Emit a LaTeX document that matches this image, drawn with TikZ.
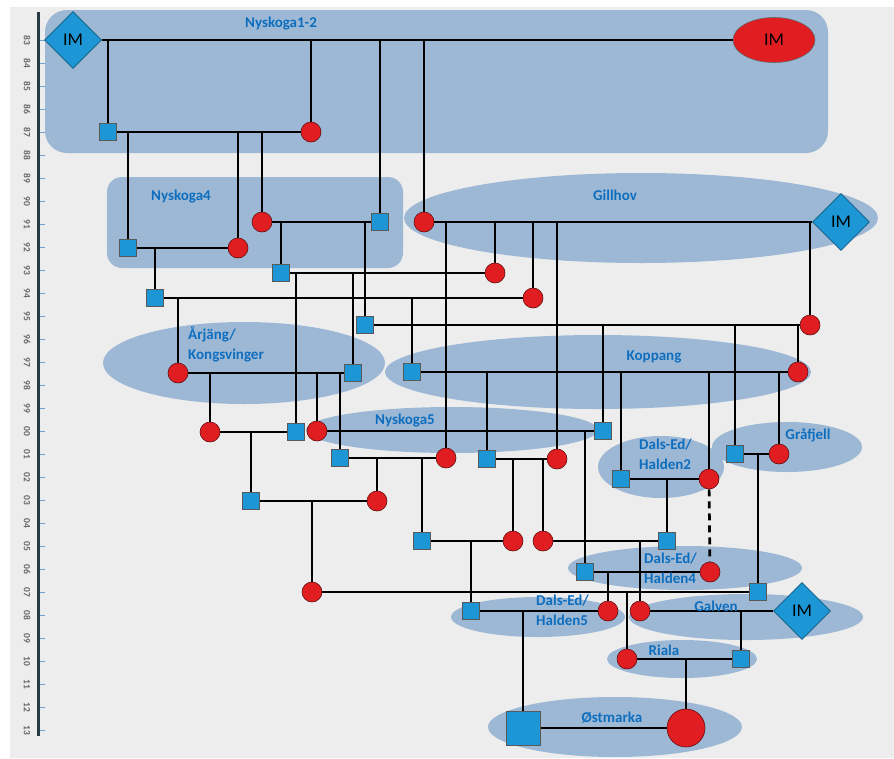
\documentclass[tikz,border=0pt]{standalone}
\usepackage{fontspec}
\setmainfont{Carlito}
\usetikzlibrary{shapes.geometric}
\definecolor{bgc}{RGB}{237,237,237}
\definecolor{reg}{RGB}{157,184,213}
\definecolor{sq}{RGB}{28,150,212}
\definecolor{ci}{RGB}{224,30,34}
\definecolor{lab}{RGB}{14,110,190}
\definecolor{axisc}{RGB}{38,58,68}
\definecolor{tickc}{RGB}{110,160,210}
\pgfdeclarelayer{regions}
\pgfdeclarelayer{links}
\pgfsetlayers{regions,links,main}
\begin{document}
\begin{tikzpicture}[x=1pt,y=-1pt,
 male/.style={rectangle,fill=sq,draw=black!65,line width=0.6pt,minimum size=17pt,inner sep=0pt},
 female/.style={circle,fill=ci,draw=black!55!ci,line width=0.6pt,minimum size=20pt,inner sep=0pt},
 imd/.style={diamond,fill=sq,draw=black!40!sq,line width=0.6pt,minimum width=57pt,minimum height=57pt,inner sep=0pt,font=\fontsize{18}{18}\selectfont},
 ime/.style={ellipse,fill=ci,draw=black!60,line width=0.6pt,minimum width=82pt,minimum height=45pt,inner sep=0pt,font=\fontsize{18}{18}\selectfont},
 lbl/.style={text=lab,font=\bfseries\fontsize{15}{20}\selectfont,inner sep=0pt},
 link/.style={line width=2.7pt,black},
 yr/.style={rotate=-90,font=\bfseries\fontsize{9.5}{9.5}\selectfont,text=black!60,inner sep=0pt}
]
\useasboundingbox (0,0) rectangle (894,758);
\begin{pgfonlayer}{regions}
\fill[white] (0,0) rectangle (894,758);
\fill[bgc] (10,7) rectangle (894,758);
\fill[reg,rounded corners=22pt] (45,10) rectangle (828,153);
\fill[reg,rounded corners=15pt] (107,177) rectangle (403,268);
\fill[reg] (641,218) ellipse [x radius=237pt,y radius=45pt];
\fill[reg] (244,363) ellipse [x radius=141pt,y radius=41pt];
\fill[reg] (598,372) ellipse [x radius=213pt,y radius=37pt];
\fill[reg] (452,430) ellipse [x radius=146pt,y radius=23pt];
\fill[reg] (661,467) ellipse [x radius=63pt,y radius=31pt];
\fill[reg] (787,447) ellipse [x radius=75pt,y radius=25pt];
\fill[reg] (685,568) ellipse [x radius=117pt,y radius=22pt];
\fill[reg] (538,617) ellipse [x radius=87pt,y radius=20pt];
\fill[reg] (746,617) ellipse [x radius=117pt,y radius=23pt];
\fill[reg] (682,659) ellipse [x radius=75pt,y radius=19pt];
\fill[reg] (615,727) ellipse [x radius=127pt,y radius=30pt];
\end{pgfonlayer}
% axis
\draw[axisc,line width=3pt] (38,12) -- (38,736);
\foreach \t [count=\i from 0] in {83,84,85,86,87,88,89,90,91,92,93,94,95,96,97,98,99,00,01,02,03,04,05,06,07,08,09,10,11,12,13}{
  \draw[tickc,line width=0.8pt] (39.5,{40+23*\i}) -- (45,{40+23*\i});
  \node[yr] (yr\i) at (27,{40+23*\i}) {\t};
}
% region labels
\node[lbl] (lNy12) at (281,24) {Nyskoga1-2};
\node[lbl] (lNy4) at (181,197) {Nyskoga4};
\node[lbl] (lGil) at (615,195) {Gillhov};
\node[lbl,align=left,anchor=north west] (lArj) at (188,326) {Årjäng/\\Kongsvinger};
\node[lbl] (lKop) at (654,357) {Koppang};
\node[lbl] (lNy5) at (405,421) {Nyskoga5};
\node[lbl,align=left,anchor=north west] (lDH2) at (639,439) {Dals-Ed/\\Halden2};
\node[lbl] (lGra) at (808,435) {Gråfjell};
\node[lbl,align=left,anchor=north west] (lDH4) at (644,553) {Dals-Ed/\\Halden4};
\node[lbl,align=left,anchor=north west] (lDH5) at (536,595) {Dals-Ed/\\Halden5};
\node[lbl] (lGal) at (716,606) {Galven};
\node[lbl] (lRia) at (664,650) {Riala};
\node[lbl] (lOst) at (612,718) {Østmarka};
% individuals
\node[imd] (imA) at (73,40) {IM};
\node[ime] (imB) at (774,40) {IM};
\node[male] (s87) at (108,132) {};
\node[female] (c87) at (311,132) {};
\node[female] (c91a) at (262,222) {};
\node[male] (s91) at (380,222) {};
\node[female] (c91b) at (424,222) {};
\node[imd] (imG) at (841,222) {IM};
\node[male] (s92) at (128,248) {};
\node[female] (c92) at (238,248) {};
\node[male] (s93) at (281,273) {};
\node[female] (c93) at (495,273) {};
\node[male] (s94) at (155,298) {};
\node[female] (c94) at (533,298) {};
\node[male] (s95) at (365,325) {};
\node[female] (c95) at (810,325) {};
\node[female] (c97) at (178,373) {};
\node[male] (s97) at (353,373) {};
\node[male] (s97k) at (412,372) {};
\node[female] (c97k) at (798,372) {};
\node[female] (c00a) at (210,432) {};
\node[male] (s00a) at (296,432) {};
\node[female] (c00b) at (317,431) {};
\node[male] (s00b) at (603,431) {};
\node[male] (s01a) at (340,458) {};
\node[female] (c01a) at (446,458) {};
\node[male] (s01b) at (487,459) {};
\node[female] (c01b) at (557,459) {};
\node[male] (s01g) at (735,454) {};
\node[female] (c01g) at (779,454) {};
\node[male] (s02h) at (621,479) {};
\node[female] (c02h) at (709,479) {};
\node[male] (s03) at (251,501) {};
\node[female] (c03) at (377,501) {};
\node[male] (s05a) at (422,541) {};
\node[female] (c05a) at (513,541) {};
\node[female] (c05b) at (543,541) {};
\node[male] (s05b) at (667,541) {};
\node[male] (s06) at (585,572) {};
\node[female] (c06) at (710,572) {};
\node[female] (c07) at (312,592) {};
\node[male] (s07) at (758,592) {};
\node[male] (s08) at (471,611) {};
\node[female] (c08a) at (608,611) {};
\node[female] (c08b) at (640,611) {};
\node[imd] (imV) at (802,611) {IM};
\node[female] (c10) at (627,659) {};
\node[male] (s10) at (741,659) {};
\node[male,minimum size=34pt] (s13) at (523,728) {};
\node[female,minimum size=38pt] (c13) at (686,728) {};
% links
\begin{pgfonlayer}{links}
\draw[link] (imA) -- (imB);
\foreach \c in {s87,c87,s91,c91b} \draw[link] (\c |- imA) -- (\c);
\draw[link] (s87) -- (c87);
\foreach \c in {s92,c92,c91a} \draw[link] (\c |- s87) -- (\c);
\draw[link] (c91a) -- (s91);
\foreach \c in {s93,s95} \draw[link] (\c |- s91) -- (\c);
\draw[link] (c91b) -- (imG);
\foreach \c in {c01a,c93,c94,c01b,c95} \draw[link] (\c |- imG) -- (\c);
\draw[link] (s92) -- (c92);
\draw[link] (s94 |- s92) -- (s94);
\draw[link] (s93) -- (c93);
\foreach \c in {s00a,s97} \draw[link] (\c |- s93) -- (\c);
\draw[link] (s94) -- (c94);
\foreach \c in {c97,s97k} \draw[link] (\c |- s94) -- (\c);
\draw[link] (s95) -- (c95);
\foreach \c in {s00b,s01g,c97k} \draw[link] (\c |- s95) -- (\c);
\draw[link] (c97) -- (s97);
\foreach \c in {c00a,c00b,s01a} \draw[link] (\c |- c97) -- (\c);
\draw[link] (s97k) -- (c97k);
\foreach \c in {s01b,s02h,c02h,c01g} \draw[link] (\c |- s97k) -- (\c);
\draw[link] (c00a) -- (s00a);
\draw[link] (s03 |- c00a) -- (s03);
\draw[link] (c00b) -- (s00b);
\draw[link] (s06 |- s00b) -- (s06);
\draw[link] (s01a) -- (c01a);
\foreach \c in {c03,s05a} \draw[link] (\c |- s01a) -- (\c);
\draw[link] (s01b) -- (c01b);
\foreach \c in {c05a,c05b} \draw[link] (\c |- s01b) -- (\c);
\draw[link] (s01g) -- (c01g);
\draw[link] (s07 |- s01g) -- (s07);
\draw[link] (s02h) -- (c02h);
\draw[link] (s05b |- s02h) -- (s05b);
\draw[link,dashed,dash pattern=on 7pt off 5pt] (c02h) -- (c06);
\draw[link] (s03) -- (c03);
\draw[link] (c07 |- s03) -- (c07);
\draw[link] (s05a) -- (c05a);
\draw[link] (s08 |- s05a) -- (s08);
\draw[link] (c05b) -- (s05b);
\draw[link] (c08b |- c05b) -- (c08b);
\draw[link] (s06) -- (c06);
\draw[link] (c08a |- s06) -- (c08a);
\draw[link] (c07) -- (s07);
\draw[link] (c10 |- c07) -- (c10);
\draw[link] (s08) -- (c08a);
\draw[link] (s13 |- s08) -- (s13);
\draw[link] (c08b) -- (imV);
\draw[link] (s10 |- c08b) -- (s10);
\draw[link] (c10) -- (s10);
\draw[link] (c13 |- c10) -- (c13);
\draw[link] (s13) -- (c13);
\end{pgfonlayer}
\end{tikzpicture}
\end{document}
